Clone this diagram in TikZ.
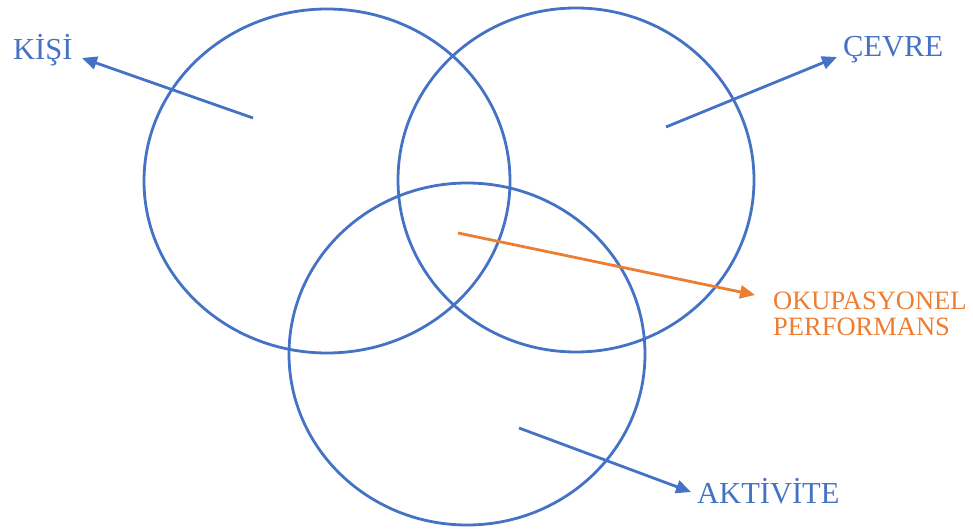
\documentclass[tikz,border=0pt]{standalone}
\usepackage{fontspec}
\setmainfont{Liberation Serif}
\usetikzlibrary{shapes.geometric,arrows.meta}
\definecolor{oblue}{HTML}{4472C4}
\definecolor{oorange}{HTML}{ED7D31}
\tikzset{
  ring/.style={ellipse, draw=oblue, line width=2.8pt, inner sep=0pt},
  bluearrow/.style={draw=oblue, line width=2.8pt, -{Triangle[length=15pt,width=13pt]}},
  orangearrow/.style={draw=oorange, line width=2.8pt, -{Triangle[length=15pt,width=13pt]}},
  bluelabel/.style={text=oblue, font=\fontsize{30.5}{36}\selectfont, anchor=base west, inner sep=0pt},
  orangelabel/.style={text=oorange, font=\fontsize{26.5}{26}\selectfont, anchor=base west, inner sep=0pt, align=left},
}
\begin{document}
\begin{tikzpicture}[x=1pt,y=-1pt]
\useasboundingbox (0,0) rectangle (973,529);
\node[ring, minimum width=366pt, minimum height=344pt] (kisi) at (327,181) {};
\node[ring, minimum width=356pt, minimum height=344pt] (cevre) at (576,180) {};
\node[ring, minimum width=356pt, minimum height=342pt] (aktivite) at (467,354) {};
\node[bluelabel] (lkisi) at (13,60) {KİŞİ};
\node[bluelabel] (lcevre) at (843,57) {ÇEVRE};
\node[bluelabel] (lakt) at (697,503) {AKTİVİTE};
\node[orangelabel] (locc) at (773,335) {OKUPASYONEL\\PERFORMANS};
\coordinate (sk) at (253,118);
\coordinate (tk) at (82,58);
\coordinate (sc) at (666,127);
\coordinate (tc) at (837,57);
\coordinate (so) at (458,233);
\coordinate (to) at (755,295);
\coordinate (sa) at (519,428);
\coordinate (ta) at (691,492);
\draw[bluearrow] (sk) -- (tk);
\draw[bluearrow] (sc) -- (tc);
\draw[orangearrow] (so) -- (to);
\draw[bluearrow] (sa) -- (ta);
\end{tikzpicture}
\end{document}
